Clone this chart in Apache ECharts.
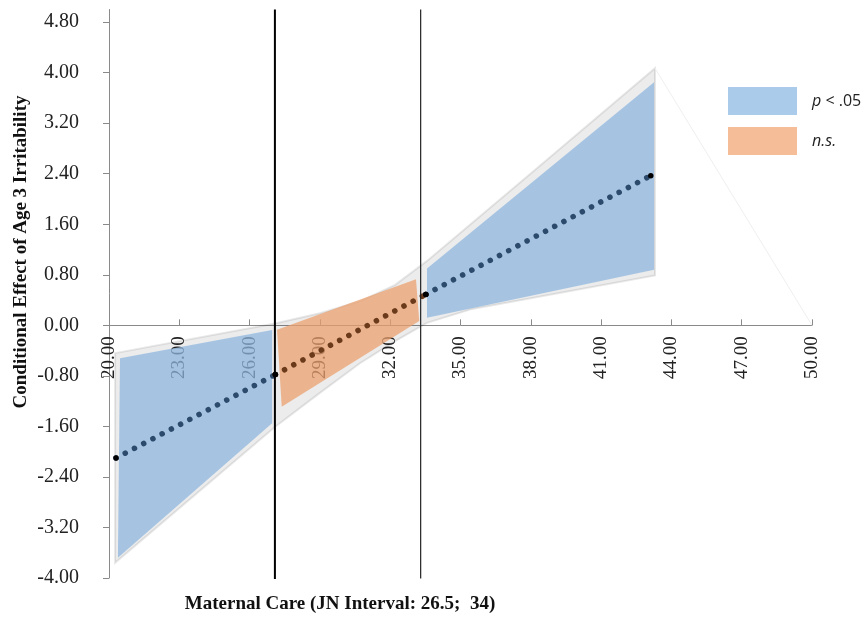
<!DOCTYPE html>
<html>
<head>
<meta charset="utf-8">
<script src="https://cdn.jsdelivr.net/npm/echarts@6/dist/echarts.min.js"></script>
<style>
html,body{margin:0;padding:0;background:#fff;}
#chart{width:866px;height:618px;}
</style>
</head>
<body>
<div id="chart"></div>
<script>
// ---- data ----
const xTickValues = [20, 23, 26, 29, 32, 35, 38, 41, 44, 47, 50];
const yTickValues = [-4.0, -3.2, -2.4, -1.6, -0.8, 0.0, 0.8, 1.6, 2.4, 3.2, 4.0, 4.8];

// conditional effect line (points at start, JN crossings, end)
const effectX = [20.3, 27.1, 33.52, 43.12];
const effectY = [-2.10, -0.78, 0.49, 2.37];

// Johnson-Neyman boundary lines
const jnX = [27.08, 33.3];

// outer grey confidence band
const bandUpperX = [20.26, 27.08, 29.0, 30.71, 32.21, 33.57, 38.3, 43.3];
const bandUpperY = [-0.44, 0.03, 0.19, 0.38, 0.64, 1.02, 2.50, 4.07];
const bandLowerX = [20.26, 27.08, 29.0, 30.71, 32.21, 33.57, 35.5, 43.3];
const bandLowerY = [-3.76, -1.61, -1.07, -0.60, -0.25, 0.04, 0.26, 0.79];
const bandTail = [[43.3, 4.07], [50, 0]];

// significance regions (corner points: TL, TR, BR, BL)
const sigLeftX = [20.47, 26.96, 26.96, 20.38];
const sigLeftY = [-0.52, -0.075, -1.55, -3.68];
const nsX = [27.17, 33.10, 33.24, 27.37];
const nsY = [-0.07, 0.73, 0.07, -1.29];
const sigRightX = [33.57, 43.26, 43.26, 33.57];
const sigRightY = [0.90, 3.85, 0.88, 0.12];

const legendNames = ['p < .05', 'n.s.'];

// ---- build ----
const zip = (xs, ys) => xs.map((x, i) => [x, ys[i]]);

function polygonSeries(name, pts, fill, stroke, lineWidth, z) {
  return {
    type: 'custom',
    name: name,
    data: pts,
    encode: { x: 0, y: 1 },
    z: z,
    silent: true,
    renderItem: function (params, api) {
      if (params.dataIndex !== 0) return null;
      const points = pts.map(p => api.coord(p));
      return {
        type: 'polygon',
        shape: { points: points },
        style: { fill: fill, stroke: stroke, lineWidth: lineWidth }
      };
    }
  };
}

const bandPts = zip(bandUpperX, bandUpperY).concat(zip(bandLowerX, bandLowerY).reverse());

function dottedSeg(i, color) {
  return {
    type: 'line',
    data: [[effectX[i], effectY[i]], [effectX[i + 1], effectY[i + 1]]],
    symbol: 'circle',
    symbolSize: 5.5,
    showSymbol: true,
    itemStyle: { color: '#000' },
    lineStyle: { color: color, width: 5.6, type: [0.01, 10.4], cap: 'round' },
    z: 6,
    silent: true,
    animation: false
  };
}

function vLine(x, width, color) {
  return {
    type: 'line',
    data: [[x, -4.03], [x, 5]],
    symbol: 'none',
    lineStyle: { color: color, width: width },
    z: 7,
    silent: true,
    animation: false
  };
}

const fmt = v => Number(v).toFixed(2);
const serif = '"Liberation Serif", "Times New Roman", serif';

// layout of the plotting area
const gridTop = 9.5, gridBottom = 40, H = 618;
const yMin = -4, yMax = 5;
const gridH = H - gridTop - gridBottom;
// the x axis crosses at y = 0 (offset upward from the bottom of the grid)
const xAxisOffset = -gridH * (0 - yMin) / (yMax - yMin);

const blueFill = 'rgba(143,183,223,0.75)';
const orangeFill = 'rgba(235,161,111,0.75)';

const option = {
  animation: false,
  backgroundColor: '#fff',
  grid: { left: 109, right: 54, top: gridTop, bottom: gridBottom, containLabel: false, outerBoundsMode: 'none' },
  xAxis: {
    type: 'value',
    min: 20, max: 50, interval: 3,
    position: 'bottom',
    offset: xAxisOffset,
    axisLine: { onZero: false, lineStyle: { color: '#8a8a8a', width: 1 } },
    axisTick: { inside: true, length: 6, lineStyle: { color: '#8a8a8a' }, customValues: xTickValues },
    axisLabel: { rotate: 90, margin: 11, formatter: fmt, color: '#222', fontFamily: serif, fontSize: 19, customValues: xTickValues },
    splitLine: { show: false }
  },
  yAxis: {
    type: 'value',
    min: yMin, max: yMax, interval: 0.8,
    axisLine: { show: true, onZero: false, lineStyle: { color: '#8a8a8a', width: 1 } },
    axisTick: { show: true, length: 6, lineStyle: { color: '#8a8a8a' }, customValues: yTickValues },
    axisLabel: { margin: 30, formatter: fmt, color: '#222', fontFamily: serif, fontSize: 20, customValues: yTickValues },
    splitLine: { show: false }
  },
  legend: {
    orient: 'vertical',
    left: 728, top: 87,
    padding: 0,
    itemWidth: 69, itemHeight: 28, itemGap: 12,
    icon: 'rect',
    selectedMode: false,
    data: [
      { name: legendNames[0], itemStyle: { color: '#abcbeb' } },
      { name: legendNames[1], itemStyle: { color: '#f5be98' } }
    ],
    formatter: function (name) {
      return name === 'n.s.' ? '{i|n.s.}' : '{i|p} < .05';
    },
    textStyle: {
      fontFamily: '"Open Sans", sans-serif', fontSize: 16, color: '#222',
      padding: [0, 0, 0, 10],
      rich: { i: { fontFamily: '"Open Sans", sans-serif', fontSize: 16, fontStyle: 'italic', color: '#222' } }
    }
  },
  graphic: [
    {
      type: 'text', x: 21, y: 252, rotation: Math.PI / 2,
      style: { text: 'Conditional Effect of Age 3 Irritability', font: 'bold 19px ' + serif, fill: '#111', align: 'center', verticalAlign: 'middle' }
    },
    {
      type: 'text', x: 340, y: 604,
      style: { text: 'Maternal Care (JN Interval: 26.5;  34)', font: 'bold 19px ' + serif, fill: '#111', align: 'center', verticalAlign: 'middle' }
    }
  ],
  series: [
    polygonSeries('band', bandPts, 'rgba(0,0,0,0.075)', 'rgba(0,0,0,0.09)', 2, 3),
    {
      type: 'line', data: bandTail, symbol: 'none', z: 3, silent: true,
      lineStyle: { color: '#efefef', width: 1 }
    },
    polygonSeries(legendNames[0], zip(sigLeftX, sigLeftY), blueFill, null, 0, 4),
    polygonSeries(legendNames[1], zip(nsX, nsY), orangeFill, null, 0, 4),
    polygonSeries(legendNames[0], zip(sigRightX, sigRightY), blueFill, null, 0, 4),
    vLine(jnX[0], 2, '#000'),
    vLine(jnX[1], 1.2, '#222'),
    dottedSeg(0, '#2c4a6b'),
    dottedSeg(1, '#6b3a1b'),
    dottedSeg(2, '#2c4a6b')
  ]
};

const chart = echarts.init(document.getElementById('chart'), null, { renderer: 'canvas' });
chart.setOption(option);
</script>
</body>
</html>
